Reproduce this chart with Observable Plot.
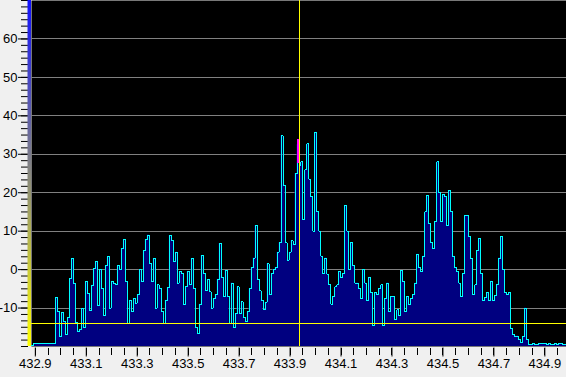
<!DOCTYPE html>
<html><head><meta charset="utf-8">
<script src="https://cdn.jsdelivr.net/npm/d3@7"></script>
<script src="https://cdn.jsdelivr.net/npm/@observablehq/plot@0.6"></script>
<style>
html,body{margin:0;padding:0;background:#f0f0f0;overflow:hidden;}
</style></head><body><div id="chart"></div>
<script>
// Spectrum trace levels (dB), one per frequency bin, left to right
const levels = [
-19.8,-19.3,-19.3,-19.3,-19.3,-19.3,-19.3,-19.3,-19.3,-19.3,-19.3,-19.3,
-7.3,-11,-17.3,-11.2,-13.5,-17,-12.5,-2.3,
2.8,-3.5,-13.8,-16,-15.5,-10.1,-15,-3.2,-6.2,-10.6,
-4.1,0.3,2,-9.3,0,-5,-12,1,3.3,-10,
-3,-3.5,-4,1,0,5.5,7.8,-3.2,-14,-8,
-11,-7.5,-8.7,-6.5,0,-3,5,7.8,9,1.5,
-3,2.8,-10,-4,-5,-11,-14,-8,-4.7,8.9,
7.6,2.2,4.5,-3.5,-0.5,-1,-9,-4.5,-0.5,-4,
2.8,-5,-15,-16.6,-9,3.7,-1,-5.5,-2.6,-5.8,
-10,-7.5,-6.5,-2.5,6.8,-2,-7,-0.2,-7,-14,
-3.5,-15,-11.5,-4.5,-11.5,-8.4,-12.5,-13.5,-11,-5,
0.5,3,11.5,-2.5,-5.5,-8,-10.5,-8.5,1.5,-6.5,
-1,0,0.5,4.5,7,34.8,22,7,2.5,4.5,
7.5,6.5,25,32.5,27,28,13,26,32.7,23.5,
19,10,35.7,15,10,3.5,-1,3,-1.2,-4,
-9,-7,-4.5,-4,-0.5,-2,-1,16.7,10,0,
7,1,-3.5,-3.5,-5,-7.5,0,-3.5,-8,-2,
-6,-14.5,-6,-6.5,-5,-4,-14.5,-7.5,-3.5,-11,
-7,-7,-13,-10.5,-12,-0.2,-3,-11,-7,-9,
-7.5,-6.5,-3.5,4,0.5,-0.5,3.5,15,19.3,12,
7,5.5,12.5,28,20,12.5,19.5,19,11.5,20.5,
15,3.5,0.5,-0.5,-3.5,-7,-1,14,14,8.5,
2.8,-6.5,-4,5,8,-1,-8,-7.3,-6,-8,
-3,-8,-6.8,-3.8,3,8.5,0,-6,-6.5,-6,
-15.3,-17,-17.3,-17.3,-18.2,-19,-17.5,-10,-18.3,-19.6,
-19.6,-19.3,-19.6,-19.6,-19.2,-19.2,-19.2,-19.2,-19.6,-19.2,-19.6,-19.6,-19.2,-19.6,-19.2,-19.2,-19.6,-19.6
];
const centerFreq = 433.935;   // MHz
const spanMHz = 2.1;
const cursorFreq = 433.935;
const peakFreq = 433.931;
const peakRange = [27.5, 33.8];
const thresholdLevel = -14;
const yDomain = [-20, 70];
const yTickLabels = [-10, 0, 10, 20, 30, 40, 50, 60];
const xTickLabels = [432.9, 433.1, 433.3, 433.5, 433.7, 433.9, 434.1, 434.3, 434.5, 434.7, 434.9];

const lo = centerFreq - spanMHz / 2, hi = centerFreq + spanMHz / 2;
const binW = spanMHz / levels.length;
const trace = levels.map((v, i) => ({f: lo + i * binW, v}));
trace.push({f: hi, v: levels[levels.length - 1]});

const xMinor = d3.range(0, 42).map(k => +(432.9 + k * 0.05).toFixed(2)).filter(d => d <= hi);
const yMinor = d3.range(0, 55).map(k => yDomain[0] + k * 10 / 6);

const font = "'Liberation Sans Narrow', 'Liberation Sans', Arial, sans-serif";

const plot = Plot.plot({
  width: 566, height: 377,
  marginLeft: 31, marginRight: 0, marginTop: 0, marginBottom: 31,
  style: {background: "#f0f0f0", fontFamily: font, fontSize: "13px", color: "black", overflow: "visible"},
  x: {domain: [lo, hi], axis: null},
  y: {domain: yDomain, axis: null},
  marks: [
    Plot.frame({fill: "black", stroke: "none"}),
    Plot.ruleY(yTickLabels, {stroke: "#808080", strokeOpacity: 1, shapeRendering: "crispEdges"}),
    Plot.areaY(trace, {x: "f", y1: yDomain[0], y2: "v", curve: "step-after", fill: "#000080", fillOpacity: 1}),
    Plot.lineY(trace, {x: "f", y: "v", curve: "step-after", stroke: "#00ffff", strokeOpacity: 1, strokeWidth: 1, shapeRendering: "crispEdges"}),
    Plot.ruleY([thresholdLevel], {stroke: "#ffff00", strokeOpacity: 1, strokeWidth: 1, shapeRendering: "crispEdges"}),
    Plot.ruleX([peakFreq], {y1: peakRange[0], y2: peakRange[1], stroke: "#ff00ff", strokeOpacity: 1, strokeWidth: 1.2, shapeRendering: "crispEdges"}),
    Plot.ruleX([cursorFreq], {stroke: "#ffff00", strokeOpacity: 1, strokeWidth: 1, shapeRendering: "crispEdges"}),
    Plot.axisX(xMinor, {anchor: "bottom", label: null, tickSize: 7, tickFormat: () => "", dy: 1.5, shapeRendering: "crispEdges"}),
    Plot.axisX(xTickLabels, {anchor: "bottom", label: null, tickSize: 9, tickPadding: 2, dy: 1.5, tickFormat: d => d.toFixed(1), fontSize: 13}),
    Plot.axisY(yMinor, {anchor: "left", label: null, tickSize: 7, tickFormat: () => "", dx: -3}),
    Plot.axisY(yTickLabels, {anchor: "left", label: null, tickSize: 10, tickPadding: 1, dx: -3, tickFormat: d => String(d), fontSize: 13})
  ]
});

// colour bar strip at the left edge of the plot
const svg = d3.select(plot);
const xs = plot.scale("x"), ys = plot.scale("y");
const grad = svg.append("defs").append("linearGradient")
  .attr("id", "strip").attr("x1", 0).attr("y1", 0).attr("x2", 0).attr("y2", 1);
grad.append("stop").attr("offset", "0%").attr("stop-color", "#1010ff");
grad.append("stop").attr("offset", "100%").attr("stop-color", "#ffff00");
svg.append("rect")
  .attr("x", xs.range[0] - 3.5).attr("width", 3.5)
  .attr("y", ys.range[1]).attr("height", ys.range[0] - ys.range[1])
  .attr("fill", "url(#strip)");

document.getElementById("chart").appendChild(plot);
</script></body></html>
